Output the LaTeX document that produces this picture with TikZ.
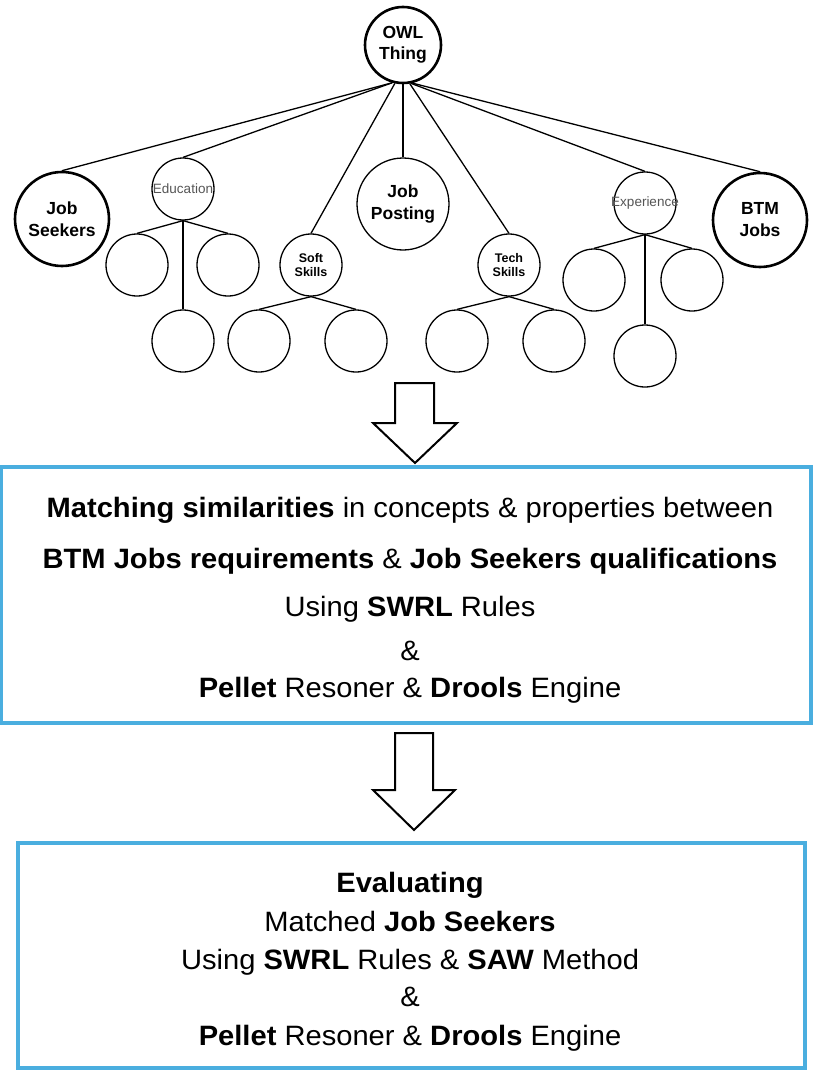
\documentclass[tikz,border=0pt]{standalone}
\usepackage{fontspec}
\setmainfont{Liberation Sans}
\usepackage{graphicx}
\definecolor{boxblue}{HTML}{4AAEDF}
\definecolor{labelgray}{HTML}{555555}
\newcommand{\wide}[1]{\scalebox{1.04}[1]{#1}}
\begin{document}
\begin{tikzpicture}[x=1pt,y=-1pt,
  cnode/.style={circle,draw=black,fill=white,inner sep=0pt,align=center},
  leaf/.style={cnode,line width=1.3pt,minimum size=62pt},
  small/.style={cnode,line width=1.3pt,minimum size=62pt},
  bigthin/.style={cnode,line width=1.3pt,minimum size=92pt,
    font=\bfseries\fontsize{17.5}{22}\selectfont},
  bigthick/.style={cnode,line width=2.6pt,minimum size=94pt,
    font=\bfseries\fontsize{17.5}{22}\selectfont},
  link/.style={line width=1.3pt,draw=black},
  bigarrow/.style={draw=black,fill=white,line width=2pt,line join=miter},
  panel/.style={draw=boxblue,line width=3.2pt},
  txt/.style={anchor=base,inner sep=0pt,font=\fontsize{28}{32}\selectfont},
  skill/.style={font=\bfseries\fontsize{12.5}{14}\selectfont},
  grey/.style={font=\fontsize{13.5}{15}\selectfont,text=labelgray}
]
\useasboundingbox (0,0) rectangle (812,1070);

% ontology tree
\node[cnode,line width=2.6pt,minimum size=76pt,
      font=\bfseries\fontsize{17.5}{21}\selectfont] (owl) at (403,45) {OWL\\Thing};
\node[bigthick] (js) at (62,219) {Job\\Seekers};
\node[small] (edu) at (183,189) {};
\node[grey] (edulbl) at (edu) {Education};
\node[leaf] (e1) at (137,265) {};
\node[leaf] (e2) at (228,265) {};
\node[leaf] (e3) at (183,341) {};
\node[small,skill] (soft) at (311,265) {Soft\\Skills};
\node[leaf] (s1) at (259,341) {};
\node[leaf] (s2) at (356,341) {};
\node[bigthin] (jp) at (403,204) {Job\\Posting};
\node[small,skill] (tech) at (509,265) {Tech\\Skills};
\node[leaf] (t1) at (457,341) {};
\node[leaf] (t2) at (554,341) {};
\node[small] (exp) at (645,203) {};
\node[grey] (explbl) at (exp) {Experience};
\node[leaf] (x1) at (594,280) {};
\node[leaf] (x2) at (692,280) {};
\node[leaf] (x3) at (645,356) {};
\node[bigthick] (btm) at (760,220) {BTM\\Jobs};

\draw[link] (owl.254) -- (js.north);
\draw[link] (owl.254) -- (edu.north);
\draw[link] (owl.258) -- (soft.north);
\draw[link] (owl.south) -- (jp.north);
\draw[link] (owl.280) -- (tech.north);
\draw[link] (owl.282) -- (exp.north);
\draw[link] (owl.284) -- (btm.north);
\draw[link] (edu.south) -- (e1.north);
\draw[link] (edu.south) -- (e2.north);
\draw[link] (edu.south) -- (e3.north);
\draw[link] (soft.south) -- (s1.north);
\draw[link] (soft.south) -- (s2.north);
\draw[link] (tech.south) -- (t1.north);
\draw[link] (tech.south) -- (t2.north);
\draw[link] (exp.south) -- (x1.north);
\draw[link] (exp.south) -- (x2.north);
\draw[link] (exp.south) -- (x3.north);

% block arrows between the stages
\draw[bigarrow] (395,383) -- (434,383) -- (434,423) -- (457,423) -- (415,463)
  -- (373,423) -- (395,423) -- cycle;
\draw[bigarrow] (395,733) -- (433,733) -- (433,790) -- (455,790) -- (414,830)
  -- (373,790) -- (395,790) -- cycle;

% matching stage
\node[panel,minimum width=810pt,minimum height=256pt,inner sep=0pt] (match) at (406,595) {};
\node[txt] (m1) at (410,517) {\wide{\textbf{Matching similarities} in concepts \& properties between}};
\node[txt] (m2) at (410,568) {\wide{\textbf{BTM Jobs requirements} \& \textbf{Job Seekers qualifications}}};
\node[txt] (m3) at (410,616) {\wide{Using \textbf{SWRL} Rules}};
\node[txt] (m4) at (410,660) {\wide{\&}};
\node[txt] (m5) at (410,697) {\wide{\textbf{Pellet} Resoner \& \textbf{Drools} Engine}};

% evaluation stage
\node[panel,minimum width=787pt,minimum height=225pt,inner sep=0pt] (eval) at (411.5,955.5) {};
\node[txt] (v1) at (410,892) {\wide{\textbf{Evaluating}}};
\node[txt] (v2) at (410,931) {\wide{Matched \textbf{Job Seekers}}};
\node[txt] (v3) at (410,969) {\wide{Using \textbf{SWRL} Rules \& \textbf{SAW} Method}};
\node[txt] (v4) at (410,1006) {\wide{\&}};
\node[txt] (v5) at (410,1045) {\wide{\textbf{Pellet} Resoner \& \textbf{Drools} Engine}};
\end{tikzpicture}
\end{document}
